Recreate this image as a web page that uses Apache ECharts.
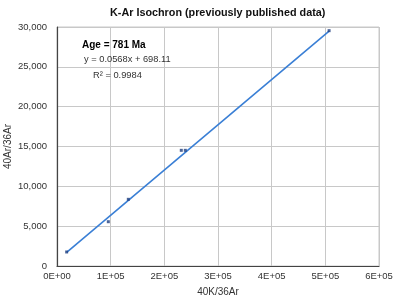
<!DOCTYPE html>
<html><head><meta charset="utf-8">
<script src="https://cdn.jsdelivr.net/npm/echarts@6/dist/echarts.min.js"></script>
<style>html,body{margin:0;padding:0;background:#fff}#c{width:400px;height:300px}</style>
</head><body><div id="c"></div>
<script>
const xValues = [18000, 95600, 132900, 231600, 239100, 507000];
const yValues = [1760, 5560, 8370, 14520, 14520, 29540];
const slope = 0.0568;
const intercept = 698.11;
const xTicks = ['0E+00','1E+05','2E+05','3E+05','4E+05','5E+05','6E+05'];
const yTicks = ['0','5,000','10,000','15,000','20,000','25,000','30,000'];
const titleText = 'K-Ar Isochron (previously published data)';
const ageText = 'Age = 781 Ma';
const eqText = 'y = 0.0568x + 698.11';
const r2Text = 'R\u00B2 = 0.9984';

const pts = xValues.map((x,i)=>[x, yValues[i]]);
const xmin = Math.min(...xValues), xmax = Math.max(...xValues);
const trend = [[xmin, slope*xmin+intercept],[xmax, slope*xmax+intercept]];

const chart = echarts.init(document.getElementById('c'), null, {renderer:'canvas'});
const font = 'Helvetica, "Liberation Sans", Arial, sans-serif';
chart.setOption({
  animation:false,
  textStyle:{fontFamily:font},
  title:{text:titleText,left:105,top:3,
    textStyle:{fontSize:10.8,fontWeight:'bold',color:'#111',fontFamily:font}},
  grid:{left:57,right:21,top:27,bottom:34,containLabel:false,outerBoundsMode:'none',
    show:true,borderColor:'#c8c8c8',borderWidth:1},
  xAxis:{type:'value',min:0,max:600000,interval:100000,
    name:'40K/36Ar',nameLocation:'middle',nameGap:21,nameMoveOverlap:false,
    nameTextStyle:{fontSize:10,color:'#333'},
    axisLine:{lineStyle:{color:'#444',width:1.2}},
    axisTick:{show:false},
    axisLabel:{fontSize:9.5,color:'#333',margin:5,formatter:v=>xTicks[Math.round(v/100000)]},
    splitLine:{show:true,lineStyle:{color:'#c8c8c8'}}},
  yAxis:{type:'value',min:0,max:30000,interval:5000,
    name:'40Ar/36Ar',nameLocation:'middle',nameGap:44,nameMoveOverlap:false,
    nameTextStyle:{fontSize:10,color:'#333'},
    axisLine:{show:true,lineStyle:{color:'#444',width:1.2}},
    axisTick:{show:false},
    axisLabel:{fontSize:9.5,color:'#333',margin:10,formatter:v=>yTicks[Math.round(v/5000)]},
    splitLine:{show:true,lineStyle:{color:'#c8c8c8'}}},
  graphic:[
    {type:'text',left:82,top:40,z:10,style:{text:ageText,font:'bold 10px '+font,fill:'#000'}},
    {type:'text',left:84,top:55,z:10,style:{text:eqText,font:'9.3px '+font,fill:'#333'}},
    {type:'text',left:93,top:71,z:10,style:{text:r2Text,font:'9.3px '+font,fill:'#333'}}
  ],
  series:[
    {type:'line',data:trend,showSymbol:false,symbol:'none',
      lineStyle:{color:'#3a7fd5',width:1.6},z:2},
    {type:'scatter',data:pts,symbol:'rect',symbolSize:3,
      itemStyle:{color:'#1f3f80'},z:3}
  ]
});
</script></body></html>
